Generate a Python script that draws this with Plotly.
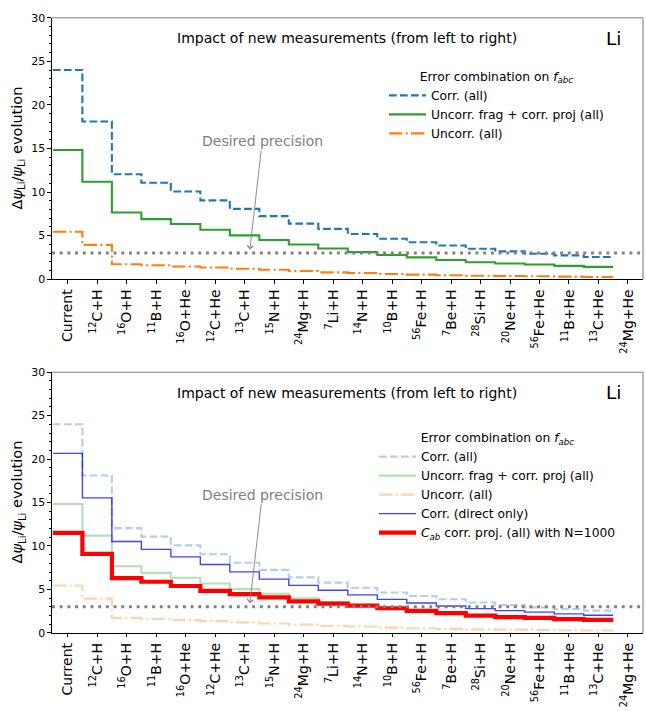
import plotly.graph_objects as go

# ---------------- data ----------------
categories = ["Current", "<sup>12</sup>C+H", "<sup>16</sup>O+H", "<sup>11</sup>B+H",
              "<sup>16</sup>O+He", "<sup>12</sup>C+He", "<sup>13</sup>C+H", "<sup>15</sup>N+H",
              "<sup>24</sup>Mg+H", "<sup>7</sup>Li+H", "<sup>14</sup>N+H", "<sup>10</sup>B+H",
              "<sup>56</sup>Fe+H", "<sup>7</sup>Be+H", "<sup>28</sup>Si+H", "<sup>20</sup>Ne+H",
              "<sup>56</sup>Fe+He", "<sup>11</sup>B+He", "<sup>13</sup>C+He", "<sup>24</sup>Mg+He"]

corr_all = [24.0, 18.1, 12.05, 11.07, 10.06, 9.05, 8.07, 7.24, 6.38, 5.78,
            5.18, 4.65, 4.24, 3.86, 3.49, 3.19, 2.93, 2.74, 2.55]
uncorr_frag_corr_proj = [14.83, 11.19, 7.66, 6.9, 6.34, 5.67, 5.03, 4.5, 3.98, 3.53,
                         3.11, 2.77, 2.51, 2.21, 1.95, 1.80, 1.69, 1.53, 1.42]
uncorr_all = [5.44, 3.94, 1.72, 1.61, 1.46, 1.35, 1.2, 1.08, 0.94, 0.79,
              0.72, 0.6, 0.53, 0.45, 0.4, 0.37, 0.34, 0.3, 0.26]
corr_direct = [20.65, 15.53, 10.52, 9.61, 8.74, 7.87, 7.01, 6.18, 5.46, 4.9,
               4.37, 3.85, 3.43, 3.09, 2.79, 2.56, 2.38, 2.18, 2.03]
cab_corr_proj = [11.5, 9.08, 6.29, 5.88, 5.39, 4.82, 4.45, 4.07, 3.62, 3.35,
                 3.12, 2.83, 2.52, 2.26, 1.99, 1.81, 1.73, 1.58, 1.5]

desired_precision = 3.0
y_ticks = [0, 5, 10, 15, 20, 25, 30]

# ---------------- helpers ----------------
W, H = 646, 711
FONT = "DejaVu Sans"


def step_xy(vals):
    xs = [i - 0.5 for i in range(len(vals) + 1)]
    ys = list(vals) + [vals[-1]]
    return xs, ys


def px_x(p):
    return p / W


def px_y(p):
    return 1 - p / H


fig = go.Figure()

TAB_BLUE = "#1f77b4"
TAB_GREEN = "#2ca02c"
TAB_ORANGE = "#ff7f0e"
DASH = "7.7px,3.3px"
DASHDOT = "13.3px,3.3px,2.1px,3.3px"

top_series = [
    ("Corr. (all)", corr_all, TAB_BLUE, DASH, 2.1),
    ("Uncorr. frag + corr. proj (all)", uncorr_frag_corr_proj, TAB_GREEN, "solid", 2.1),
    ("Uncorr. (all)", uncorr_all, TAB_ORANGE, DASHDOT, 2.1),
]
for name, vals, col, dash, w in top_series:
    xs, ys = step_xy(vals)
    fig.add_trace(go.Scatter(x=xs, y=ys, mode="lines", line_shape="hv", name=name,
                             line=dict(color=col, dash=dash, width=w),
                             xaxis="x", yaxis="y", legend="legend"))

bottom_series = [
    ("Corr. (all)", corr_all, "rgba(31,119,180,0.35)", DASH, 2.1),
    ("Uncorr. frag + corr. proj (all)", uncorr_frag_corr_proj, "rgba(44,160,44,0.35)", "solid", 2.1),
    ("Uncorr. (all)", uncorr_all, "rgba(255,127,14,0.35)", DASHDOT, 2.1),
    ("Corr. (direct only)", corr_direct, "rgba(0,0,255,0.75)", "solid", 1.4),
    ("<i>C<sub>ab</sub></i> corr. proj. (all) with N=1000", cab_corr_proj, "#ff0000", "solid", 4.2),
]
for name, vals, col, dash, w in bottom_series:
    xs, ys = step_xy(vals)
    fig.add_trace(go.Scatter(x=xs, y=ys, mode="lines", line_shape="hv", name=name,
                             line=dict(color=col, dash=dash, width=w),
                             xaxis="x2", yaxis="y2", legend="legend2"))

# domains (pixel-measured)
xdom = [px_x(52), px_x(643)]
ydom_top = [px_y(278.3), px_y(12)]
ydom_bot = [px_y(638.5), px_y(373)]
xrange_ = [-0.53, 19.51]

xaxis_common = dict(
    range=xrange_, tickmode="array", tickvals=list(range(len(categories))), ticktext=categories,
    tickangle=-90, ticks="outside", ticklen=3.5, tickwidth=1.1, tickcolor="black",
    showline=True, linecolor="black", linewidth=1.1, showgrid=False, zeroline=False,
    tickfont=dict(family=FONT, size=14, color="black"), domain=xdom,
)
yaxis_common = dict(
    range=[0, 30], tickmode="array", tickvals=y_ticks, ticks="outside", ticklen=3.5,
    tickwidth=1.1, tickcolor="black", showline=True, linecolor="black", linewidth=1.1,
    showgrid=False, zeroline=False, tickfont=dict(family=FONT, size=11, color="black"),
    minor=dict(dtick=1, tick0=0, ticks="outside", ticklen=2, tickwidth=0.8, tickcolor="black",
               showgrid=False),
)

legend_common = dict(
    font=dict(family=FONT, size=12.3, color="black"), bgcolor="rgba(0,0,0,0)",
    borderwidth=0, xanchor="left", yanchor="top", itemwidth=37,
    title=dict(text="Error combination on <i>f<sub>abc</sub></i>", side="top center",
               font=dict(family=FONT, size=12.3, color="black")),
    tracegroupgap=0,
)

fig.update_layout(
    width=W, height=H, margin=dict(l=0, r=0, t=0, b=0),
    paper_bgcolor="white", plot_bgcolor="white",
    font=dict(family=FONT, color="black"),
    xaxis=dict(**xaxis_common, anchor="y"),
    yaxis=dict(**yaxis_common, domain=ydom_top, anchor="x"),
    xaxis2=dict(**xaxis_common, anchor="y2"),
    yaxis2=dict(**yaxis_common, domain=ydom_bot, anchor="x2"),
    legend=dict(**legend_common, x=px_x(384), y=px_y(60)),
    legend2=dict(**legend_common, x=px_x(374), y=px_y(428)),
)

# frame (top/right spines in gray) and desired-precision line
for xr, yr in (("x", "y"), ("x2", "y2")):
    fig.add_shape(type="line", xref=f"{xr} domain", yref=f"{yr} domain", x0=0, x1=1, y0=1, y1=1,
                  line=dict(color="#808080", width=1.1))
    fig.add_shape(type="line", xref=f"{xr} domain", yref=f"{yr} domain", x0=1, x1=1, y0=0, y1=1,
                  line=dict(color="#808080", width=1.1))
    fig.add_shape(type="line", xref=f"{xr} domain", yref=yr, x0=0, x1=1,
                  y0=desired_precision, y1=desired_precision,
                  line=dict(color="#808080", width=2.9, dash="2.9px,4.8px"))

    fig.add_annotation(xref=f"{xr} domain", yref=f"{yr} domain", x=0.5, y=0.921,
                       text="Impact of new measurements (from left to right)", showarrow=False,
                       font=dict(family=FONT, size=14, color="black"), xanchor="center", yanchor="middle")
    fig.add_annotation(xref=f"{xr} domain", yref=f"{yr} domain", x=0.95, y=0.921,
                       text="Li", showarrow=False,
                       font=dict(family=FONT, size=18.5, color="black"), xanchor="center", yanchor="middle")
    fig.add_annotation(xref=xr, yref=yr, x=6.18, y=3.4, ax=6.6, ay=15.9, axref=xr, ayref=yr,
                       text="Desired precision", showarrow=True, arrowhead=4, arrowsize=1.3,
                       arrowwidth=0.9, arrowcolor="#808080",
                       font=dict(family=FONT, size=14, color="#808080"))

# y-axis labels
for ydom in (ydom_top, ydom_bot):
    fig.add_annotation(xref="paper", yref="paper", x=px_x(18), y=(ydom[0] + ydom[1]) / 2,
                       text="Δ<i>ψ</i><sub>Li</sub>/<i>ψ</i><sub>Li</sub> evolution", textangle=-90,
                       showarrow=False, xanchor="center", yanchor="middle",
                       font=dict(family=FONT, size=14.5, color="black"))

fig.write_html("out.html", config={"displayModeBar": False},
               post_script="document.body.style.margin='0px';document.body.style.overflow='hidden';")
